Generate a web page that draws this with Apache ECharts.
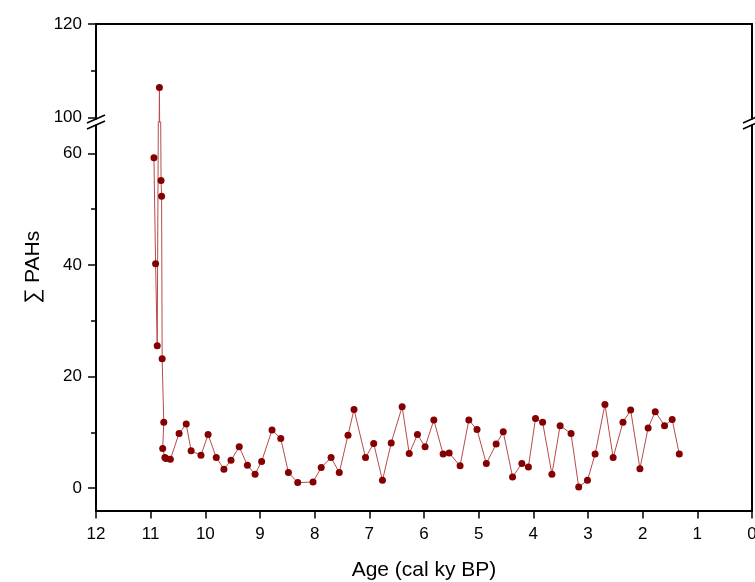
<!DOCTYPE html>
<html><head><meta charset="utf-8">
<script src="https://cdn.jsdelivr.net/npm/echarts@6/dist/echarts.min.js"></script>
<style>html,body{margin:0;padding:0;background:#fff}#c{width:755px;height:582px}</style>
</head><body><div id="c"></div>
<script>
// Data (age in cal ky BP, ΣPAHs)
const ages = [10.94, 10.91, 10.88, 10.84, 10.81, 10.80, 10.79, 10.76, 10.78, 10.74, 10.72, 10.64,
  10.48, 10.35, 10.26, 10.08, 9.95, 9.80, 9.66, 9.53, 9.38, 9.23, 9.09,
  8.97, 8.78, 8.62, 8.48, 8.31, 8.03, 7.88, 7.70, 7.55, 7.39, 7.28,
  7.07, 6.92, 6.76, 6.60, 6.40, 6.27, 6.12, 5.98, 5.82, 5.65, 5.54,
  5.34, 5.18, 5.03, 4.86, 4.68, 4.55, 4.38, 4.21, 4.09, 3.96, 3.83,
  3.66, 3.51, 3.31, 3.17, 3.01, 2.87, 2.69, 2.54, 2.36, 2.22, 2.05, 1.90, 1.77, 1.60, 1.46, 1.33];
const pahs = [59.2, 40.2, 25.5, 106.4, 55.1, 52.3, 23.2, 11.8, 7.1, 5.5, 5.3, 5.2,
  9.8, 11.5, 6.7, 5.9, 9.6, 5.5, 3.4, 5.0, 7.4, 4.1, 2.5,
  4.8, 10.4, 8.9, 2.8, 1.0, 1.1, 3.7, 5.5, 2.8, 9.5, 14.1,
  5.5, 8.0, 1.4, 8.1, 14.6, 6.2, 9.6, 7.4, 12.2, 6.1, 6.3,
  4.0, 12.2, 10.5, 4.4, 7.9, 10.1, 2.0, 4.4, 3.8, 12.5, 11.8,
  2.5, 11.2, 9.8, 0.2, 1.4, 6.1, 15.0, 5.5, 11.8, 14.0, 3.5, 10.8, 13.7, 11.2, 12.3, 6.1];
const upperMajor = [100, 120];
const upperMinor = [110];
const lowerMajor = [0, 20, 40, 60];
const lowerMinor = [10, 30, 50];
const xName = 'Age (cal ky BP)';
const yName = '\u2211 PAHs';

// Layout
const W = 755, H = 582, L = 96, R = 752, T = 24, B = 510.5, BRK = 122;
const FONT = 'Liberation Sans, Arial, sans-serif';
const AXL = { show: true, onZero: false, lineStyle: { color: '#000', width: 2 } };
const UP = [99, 120], LO = [-4, 65.6];

const pts = ages.map((a, i) => [a, pahs[i]]);

function leftAxis(grid, rng, ticks, major) {
  return {
    gridIndex: grid, type: 'value', min: rng[0], max: rng[1], position: 'left',
    axisLine: Object.assign({}, AXL, { show: major }),
    axisTick: { show: true, inside: false, length: major ? 8 : 5, customValues: ticks, lineStyle: { color: '#000', width: 1.5 } },
    axisLabel: major ? { show: true, customValues: ticks, fontSize: 17, fontFamily: FONT, color: '#000', margin: 14 } : { show: false },
    splitLine: { show: false }
  };
}
function rightAxis(grid, rng) {
  return {
    gridIndex: grid, type: 'value', min: rng[0], max: rng[1], position: 'right',
    axisLine: AXL, axisTick: { show: false }, axisLabel: { show: false }, splitLine: { show: false }
  };
}
function hiddenX(grid) {
  return { gridIndex: grid, type: 'value', min: 0, max: 12, inverse: true, show: false, axisLine: { onZero: false } };
}
const lineSeries = (xi, yi) => ({
  type: 'line', xAxisIndex: xi, yAxisIndex: yi, data: pts, clip: true,
  symbol: 'circle', symbolSize: 7, showSymbol: true,
  itemStyle: { color: '#850000' },
  lineStyle: { color: '#b84a4a', width: 1 },
  animation: false, z: 3
});

const slashes = [];
[L, R].forEach(x0 => {
  slashes.push({ type: 'rect', shape: { x: x0 - 2, y: BRK - 2.5, width: 4, height: 5 }, style: { fill: '#fff' }, z: 100 });
  [-3, 3].forEach(d => {
    slashes.push({ type: 'line', shape: { x1: x0 - 9, y1: BRK + d + 4, x2: x0 + 9, y2: BRK + d - 4 }, style: { stroke: '#000', lineWidth: 1.5 }, z: 101 });
  });
});

const G = (top, height) => ({ left: L, right: W - R, top: top, height: height, containLabel: false, outerBoundsMode: 'none' });

const chart = echarts.init(document.getElementById('c'), null, { renderer: 'canvas' });
chart.setOption({
  backgroundColor: '#fff',
  animation: false,
  grid: [
    G(T, BRK - T), G(BRK, B - BRK), G(T, B - T), G(T, BRK - T), G(BRK, B - BRK)
  ],
  xAxis: [
    { gridIndex: 0, type: 'value', min: 0, max: 12, inverse: true, position: 'top',
      axisLine: AXL, axisTick: { show: false }, axisLabel: { show: false }, splitLine: { show: false } },
    { gridIndex: 1, type: 'value', min: 0, max: 12, interval: 1, inverse: true, position: 'bottom',
      axisLine: AXL,
      axisTick: { show: true, inside: false, length: 8, lineStyle: { color: '#000', width: 1.5 } },
      axisLabel: { fontSize: 17, fontFamily: FONT, color: '#000', margin: 15 },
      splitLine: { show: false },
      name: xName, nameLocation: 'middle', nameGap: 49,
      nameTextStyle: { fontSize: 21, fontFamily: FONT, color: '#000' } },
    hiddenX(2), hiddenX(3), hiddenX(4)
  ],
  yAxis: [
    leftAxis(0, UP, upperMajor, true),
    rightAxis(0, UP),
    leftAxis(1, LO, lowerMajor, true),
    rightAxis(1, LO),
    { gridIndex: 2, type: 'value', min: 0, max: 1, position: 'left',
      axisLine: { show: false, onZero: false }, axisTick: { show: false }, axisLabel: { show: false }, splitLine: { show: false },
      name: yName, nameLocation: 'middle', nameGap: 52,
      nameTextStyle: { fontSize: 21, fontFamily: FONT, color: '#000' } },
    leftAxis(3, UP, upperMinor, false),
    leftAxis(4, LO, lowerMinor, false)
  ],
  series: [lineSeries(0, 0), lineSeries(1, 2)],
  graphic: slashes
});
</script>
</body></html>
